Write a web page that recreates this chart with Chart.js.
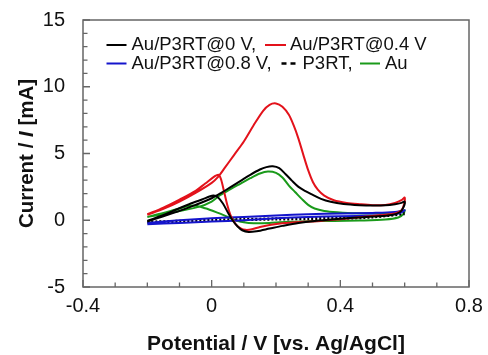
<!DOCTYPE html>
<html>
<head>
<meta charset="utf-8">
<script src="https://cdn.jsdelivr.net/npm/chart.js@4/dist/chart.umd.min.js"></script>
<style>
  html, body { margin: 0; padding: 0; background: #fff; }
  #wrap { width: 488px; height: 355px; }
</style>
</head>
<body>
<div id="wrap"><canvas id="c" width="488" height="355"></canvas></div>
<script>
// ---- data (potential V, current mA), anodic then cathodic scan ----
const seriesLabels = ['Au/P3RT@0 V', 'Au/P3RT@0.4 V', 'Au/P3RT@0.8 V', 'P3RT', 'Au'];

const blackV = [-0.2,-0.15,-0.1,-0.05,0,0.03,0.06,0.09,0.12,0.15,0.17,0.19,0.21,0.23,0.25,0.27,0.29,0.31,0.34,0.37,0.41,0.46,0.5,0.54,0.57,0.59,0.6,
                0.597,0.585,0.56,0.5,0.44,0.38,0.32,0.27,0.22,0.18,0.14,0.115,0.095,0.08,0.065,0.05,0.035,0.02,0.005,-0.03,-0.07,-0.12,-0.16,-0.2];
const blackI = [-0.1,0.3,0.7,1.15,1.65,2.05,2.5,2.95,3.4,3.8,3.98,4.04,3.9,3.45,2.95,2.5,2.2,1.95,1.6,1.38,1.22,1.13,1.1,1.12,1.2,1.3,1.4,
                1.0,0.6,0.4,0.28,0.18,0.08,-0.05,-0.2,-0.42,-0.62,-0.82,-0.88,-0.75,-0.45,0.0,0.6,1.25,1.7,1.85,1.55,1.2,0.7,0.3,-0.05];

const redV = [-0.2,-0.15,-0.1,-0.05,0,0.02,0.04,0.07,0.1,0.13,0.16,0.18,0.2,0.22,0.24,0.255,0.27,0.285,0.3,0.315,0.33,0.35,0.38,0.42,0.46,0.5,0.54,0.57,0.59,0.6,
              0.598,0.59,0.57,0.52,0.46,0.4,0.34,0.28,0.22,0.18,0.15,0.125,0.105,0.09,0.075,0.06,0.048,0.038,0.03,0.022,0.01,-0.02,-0.05,-0.1,-0.15,-0.2];
const redI = [0.4,0.85,1.4,2.05,2.8,3.25,3.9,4.9,5.9,7.1,8.2,8.65,8.75,8.5,7.9,7.1,6.1,4.9,3.75,2.85,2.3,1.85,1.5,1.3,1.2,1.13,1.15,1.3,1.5,1.7,
              1.2,0.75,0.5,0.37,0.22,0.08,-0.05,-0.12,-0.22,-0.35,-0.5,-0.68,-0.72,-0.6,-0.3,0.3,1.2,2.2,3.0,3.4,3.3,2.75,2.2,1.55,0.95,0.45];

const blueV = [-0.2,-0.1,0,0.1,0.2,0.3,0.4,0.5,0.57,0.6, 0.58,0.55,0.5,0.4,0.3,0.2,0.1,0,-0.1,-0.2];
const blueI = [-0.2,0.0,0.15,0.25,0.35,0.45,0.5,0.55,0.62,0.75, 0.5,0.4,0.35,0.3,0.25,0.15,0.0,-0.1,-0.2,-0.3];

const p3rtV = [-0.2,-0.1,0,0.1,0.2,0.3,0.4,0.5,0.6];
const p3rtI = [-0.15,-0.08,0.0,0.05,0.1,0.12,0.15,0.25,0.5];

const auV = [-0.2,-0.15,-0.1,-0.04,0,0.026,0.06,0.09,0.12,0.15,0.175,0.2,0.22,0.24,0.26,0.28,0.3,0.32,0.35,0.39,0.45,0.52,0.56,0.59,0.6,
             0.595,0.58,0.54,0.46,0.38,0.3,0.24,0.18,0.13,0.1,0.075,0.05,0.02,-0.02,-0.06,-0.1,-0.15,-0.2];
const auI = [0.25,0.45,0.7,1.0,1.4,1.87,2.35,2.75,3.15,3.5,3.65,3.55,3.2,2.6,2.1,1.6,1.15,0.88,0.7,0.6,0.52,0.52,0.56,0.65,0.75,
             0.45,0.2,0.05,-0.02,-0.05,-0.08,-0.12,-0.2,-0.22,-0.15,0.0,0.25,0.55,0.9,1.1,0.88,0.55,0.25];

const xTickLabels = ['-0.4', '0', '0.4', '0.8'];
const yTickLabels = ['-5', '0', '5', '10', '15'];

const colors = ['#000000', '#e3121b', '#1414cc', '#000000', '#1a9a1a'];

function pts(xs, ys) { return xs.map((x, i) => ({ x: x, y: ys[i] })); }

const FONT = '"Liberation Sans", Arial, sans-serif';
const AXIS_COLOR = '#666666';

const frame = {
  id: 'frame',
  afterDraw(chart) {
    const ctx = chart.ctx, a = chart.chartArea;
    const xs = chart.scales.x, ys = chart.scales.y;
    ctx.save();
    ctx.strokeStyle = AXIS_COLOR;
    ctx.lineWidth = 1.5;
    ctx.strokeRect(a.left, a.top, a.right - a.left, a.bottom - a.top);
    // inward tick marks
    ctx.lineWidth = 1.3;
    ctx.beginPath();
    xs.ticks.forEach(t => {
      const p = xs.getPixelForValue(t.value);
      const major = Math.abs(Math.round(t.value * 10)) % 4 === 0;
      ctx.moveTo(p, a.bottom);
      ctx.lineTo(p, a.bottom - (major ? 7 : 4.5));
    });
    ys.ticks.forEach(t => {
      const p = ys.getPixelForValue(t.value);
      const major = Math.round(t.value) % 5 === 0;
      ctx.moveTo(a.left, p);
      ctx.lineTo(a.left + (major ? 7 : 4.5), p);
    });
    ctx.stroke();

    // axis titles
    ctx.fillStyle = '#111';
    ctx.textBaseline = 'alphabetic';
    ctx.textAlign = 'center';
    ctx.font = 'bold 21px ' + FONT;
    ctx.fillText('Potential / V [vs. Ag/AgCl]', (a.left + a.right) / 2, 350);

    // y title with italic I
    const parts = [['Current / ', 'bold 20.5px ' + FONT], ['I', 'italic bold 20.5px ' + FONT], [' [mA]', 'bold 20.5px ' + FONT]];
    let total = 0;
    parts.forEach(p => { ctx.font = p[1]; total += ctx.measureText(p[0]).width; });
    ctx.save();
    ctx.translate(33, (a.top + a.bottom) / 2);
    ctx.rotate(-Math.PI / 2);
    ctx.textAlign = 'left';
    let xx = -total / 2;
    parts.forEach(p => { ctx.font = p[1]; ctx.fillText(p[0], xx, 0); xx += ctx.measureText(p[0]).width; });
    ctx.restore();

    // legend
    const ds = chart.data.datasets;
    ctx.font = '18.5px ' + FONT;
    ctx.textBaseline = 'middle';
    ctx.textAlign = 'left';
    ctx.fillStyle = '#111';
    const items = [
      { d: 0, y: 45, x0: 106.5, x1: 126.5, tx: 131.5, text: ds[0].label + ',' },
      { d: 1, y: 45, x0: 265, x1: 286, tx: 290, text: ds[1].label },
      { d: 2, y: 63.5, x0: 106.5, x1: 126.5, tx: 131.5, text: ds[2].label + ',' },
      { d: 3, y: 63.5, x0: 281.5, x1: 295.5, tx: 302.5, text: ds[3].label + ',' },
      { d: 4, y: 63.5, x0: 360, x1: 380, tx: 385, text: ds[4].label }
    ];
    items.forEach(it => {
      const d = ds[it.d];
      ctx.save();
      ctx.strokeStyle = d.borderColor;
      ctx.lineWidth = it.d === 3 ? 2.6 : 2;
      ctx.setLineDash(it.d === 3 ? [5, 4] : []);
      ctx.beginPath();
      ctx.moveTo(it.x0, it.y);
      ctx.lineTo(it.x1, it.y);
      ctx.stroke();
      ctx.restore();
      ctx.fillText(it.text, it.tx, it.y);
    });
    ctx.restore();
  }
};

const mk = (i, xs, ys, extra) => Object.assign({
  label: seriesLabels[i],
  data: pts(xs, ys),
  borderColor: colors[i],
  backgroundColor: colors[i],
  borderWidth: 2,
  showLine: true,
  pointRadius: 0,
  tension: 0.3,
  fill: false
}, extra || {});

new Chart(document.getElementById('c'), {
  type: 'scatter',
  data: {
    datasets: [
      mk(0, blackV, blackI),
      mk(1, redV, redI),
      mk(2, blueV, blueI),
      mk(3, p3rtV, p3rtI, { borderDash: [2, 2], borderWidth: 3.2 }),
      mk(4, auV, auI)
    ]
  },
  options: {
    responsive: false,
    animation: false,
    devicePixelRatio: 1,
    layout: { padding: { left: 0, top: 20, right: 19, bottom: 0 } },
    plugins: { legend: { display: false }, tooltip: { enabled: false } },
    scales: {
      x: {
        type: 'linear', min: -0.4, max: 0.8,
        grid: { display: false, drawTicks: false },
        border: { display: false },
        afterFit(s) { s.height = 68; s.paddingLeft = 0; s.paddingRight = 0; },
        ticks: {
          stepSize: 0.1, autoSkip: false, maxRotation: 0, padding: 7,
          color: '#111', font: { family: FONT, size: 20 },
          callback(v) {
            const k = Math.round(v * 10);
            if (k % 4 !== 0) return '';
            return xTickLabels[(k + 4) / 4];
          }
        }
      },
      y: {
        type: 'linear', min: -5, max: 15,
        grid: { display: false, drawTicks: false },
        border: { display: false },
        afterFit(s) { s.width = 83; s.paddingTop = 0; s.paddingBottom = 0; },
        ticks: {
          stepSize: 1, autoSkip: false, padding: 18,
          color: '#111', font: { family: FONT, size: 20 },
          callback(v) {
            const k = Math.round(v);
            if (k % 5 !== 0) return '';
            return yTickLabels[(k + 5) / 5];
          }
        }
      }
    }
  },
  plugins: [frame]
});
</script>
</body>
</html>
